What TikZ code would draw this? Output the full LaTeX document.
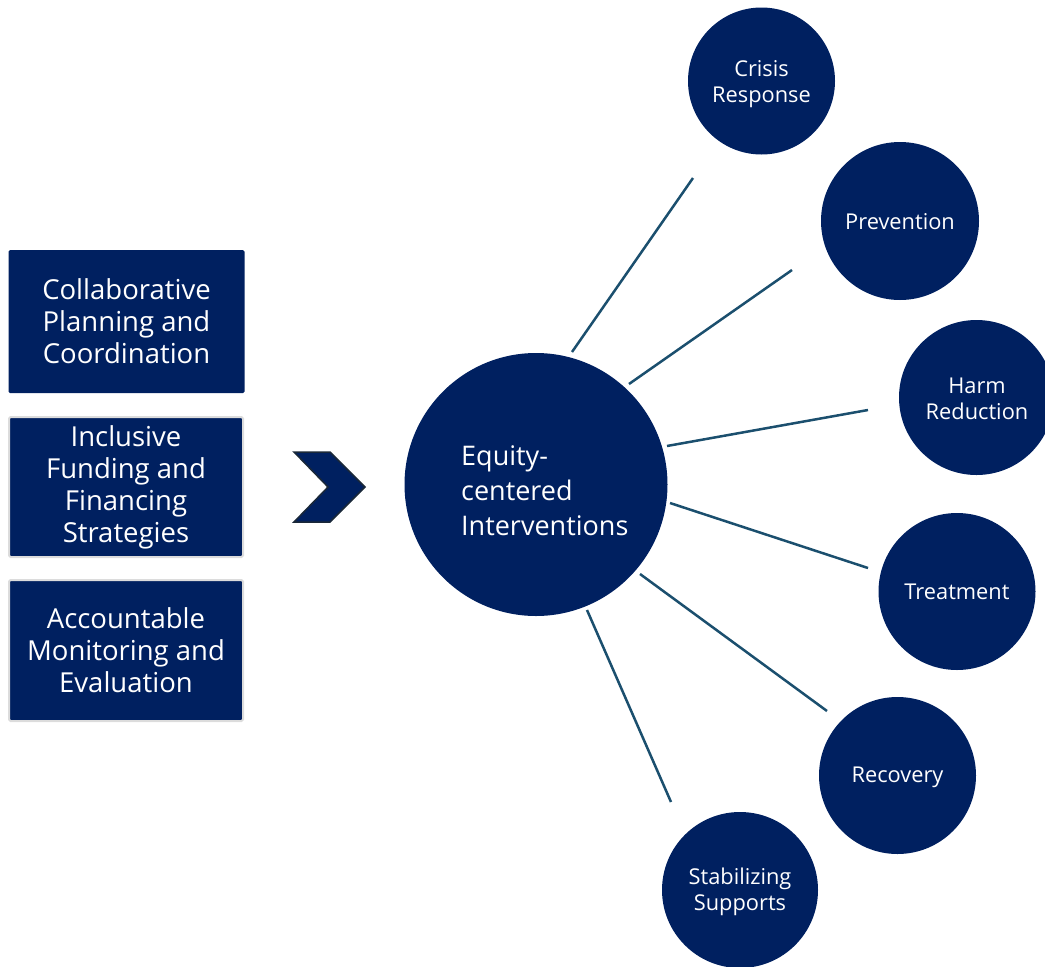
\documentclass[tikz,border=0pt]{standalone}
\usepackage{fontspec}
\setmainfont{Open Sans}
\definecolor{navy}{HTML}{002060}
\definecolor{teal}{HTML}{1B4F6E}
\definecolor{edgegray}{HTML}{DCDCDC}
\definecolor{chevedge}{HTML}{1A2838}
\begin{document}
\begin{tikzpicture}[x=1pt,y=-1pt,
  leftbox/.style={fill=navy,text=white,minimum width=236pt,align=center,inner sep=0pt,rounded corners=1.5pt,
    font=\fontsize{27.5}{32}\selectfont},
  grayedge/.style={draw=edgegray,line width=2pt},
  spoke/.style={circle,fill=navy,inner sep=0pt},
  spoketext/.style={text=white,align=center,inner sep=0pt,font=\fontsize{21.8}{26}\selectfont},
  link/.style={draw=teal,line width=2.5pt}]
\useasboundingbox (0,0) rectangle (1045,967);
\clip (0,0) rectangle (1045,967);
% left boxes
\node[leftbox,minimum height=143pt] (b1) at (126.5,321.5) {Collaborative\\Planning and\\Coordination};
\node[leftbox,grayedge,minimum width=234pt,minimum height=140pt] (b2) at (126,487) {Inclusive\\Funding and\\Financing\\Strategies};
\node[leftbox,grayedge,minimum width=234pt,minimum height=141pt] (b3) at (126,650.5) {Accountable\\Monitoring and\\Evaluation};
% chevron
\fill[navy,draw=chevedge,line width=1.5pt,line join=miter]
  (294,452) -- (330,452) -- (365,487) -- (330,522) -- (294,522) -- (328,487) -- cycle;
% center circle
\node[circle,fill=navy,minimum size=263pt,inner sep=0pt] (c) at (536,484.5) {};
\node[text=white,align=left,anchor=west,inner sep=0pt,font=\fontsize{27}{35}\selectfont] (ct) at (461,491) {Equity-\\centered\\Interventions};
% spokes
\node[spoke,minimum size=147pt] (s1) at (761.5,81) {};
\node[spoke,minimum size=158pt] (s2) at (900,221) {};
\node[spoke,minimum size=155pt] (s3) at (976.5,397.5) {};
\node[spoke,minimum size=157pt] (s4) at (957,591.5) {};
\node[spoke,minimum size=157pt] (s5) at (897.5,775.5) {};
\node[spoke,minimum size=156pt] (s6) at (740,890) {};
\node[spoketext] (t1) at (761.5,84) {Crisis\\Response};
\node[spoketext] (t2) at (900,222) {Prevention};
\node[spoketext] (t3) at (977,399) {Harm\\Reduction};
\node[spoketext] (t4) at (957,592) {Treatment};
\node[spoketext] (t5) at (897.5,777) {Recovery};
\node[spoketext] (t6) at (740,892) {Stabilizing\\Supports};
% connector ends
\coordinate (a1) at (572,352); \coordinate (e1) at (693,178);
\coordinate (a2) at (629,384); \coordinate (e2) at (792,270);
\coordinate (a3) at (667,446); \coordinate (e3) at (868,410);
\coordinate (a4) at (670,503); \coordinate (e4) at (868,568);
\coordinate (a5) at (640,574); \coordinate (e5) at (827,711);
\coordinate (a6) at (587,610); \coordinate (e6) at (671,802);
\foreach \i in {1,...,6} { \draw[link] (a\i) -- (e\i); }
\end{tikzpicture}
\end{document}
